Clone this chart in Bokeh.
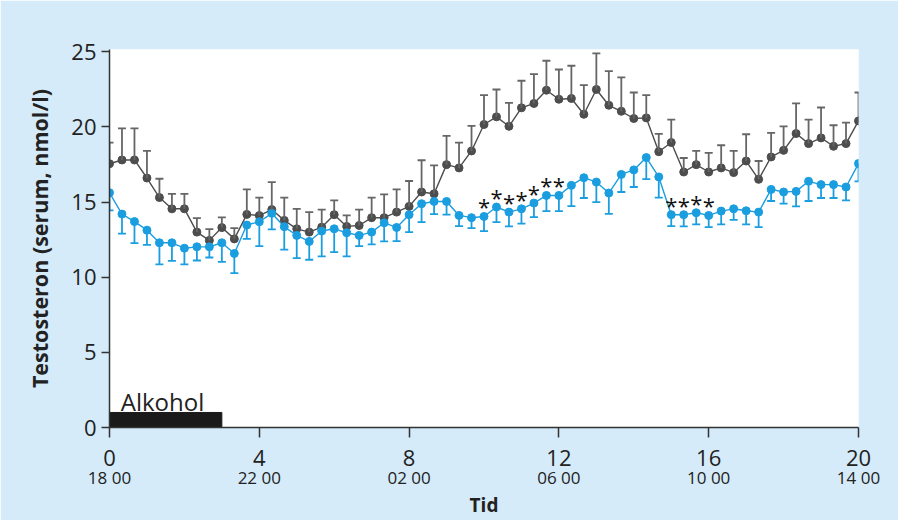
from bokeh.plotting import figure
from bokeh.models import Range1d, LinearAxis, FixedTicker, Whisker, ColumnDataSource, TeeHead
from bokeh.core.properties import value
from bokeh.embed import file_html
from bokeh.resources import INLINE

# --- data -------------------------------------------------------------
# sampling every 20 minutes, hours after 18:00
time_h = [m / 60 for m in range(0, 1201, 20)]

control = [17.55, 17.8, 17.8, 16.6, 15.3, 14.55, 14.55, 13.0, 12.45, 13.3,
           12.55, 14.18, 14.1, 14.5, 13.78, 13.22, 13.0, 13.33, 14.16, 13.38,
           13.44, 13.96, 13.96, 14.33, 14.71, 15.67, 15.55, 17.49, 17.27, 18.4,
           20.16, 20.67, 20.04, 21.27, 21.56, 22.44, 21.84, 21.89, 20.84, 22.49,
           21.44, 21.04, 20.56, 20.6, 18.35, 18.96, 17.0, 17.49, 17.0, 17.27,
           16.96, 17.73, 16.51, 18.0, 18.44, 19.56, 18.89, 19.27, 18.71, 18.89,
           20.4]
control_upper = [18.95, 19.9, 19.9, 18.4, 16.55, 15.55, 15.55, 13.93, 13.2, 13.98,
                 13.27, 15.84, 15.3, 16.33, 15.3, 14.55, 14.33, 14.49, 15.11, 14.11,
                 14.49, 15.29, 15.51, 15.84, 16.4, 17.78, 17.44, 19.4, 18.96, 20.07,
                 22.11, 22.49, 21.6, 23.07, 23.51, 24.4, 23.82, 24.07, 22.78, 24.89,
                 23.71, 23.29, 22.29, 22.11, 19.53, 20.49, 17.93, 18.4, 18.27, 18.78,
                 18.4, 19.51, 17.73, 19.6, 20.04, 21.56, 20.49, 21.29, 20.11, 20.29,
                 22.29]
alcohol = [15.62, 14.2, 13.7, 13.13, 12.29, 12.29, 11.93, 12.02, 12.02, 12.29,
           11.58, 13.47, 13.69, 14.25, 13.36, 12.78, 12.38, 13.07, 13.22, 12.96,
           12.78, 13.0, 13.62, 13.31, 14.16, 14.89, 15.04, 15.04, 14.11, 13.96,
           14.04, 14.67, 14.33, 14.55, 14.93, 15.44, 15.44, 16.11, 16.62, 16.33,
           15.6, 16.84, 17.14, 17.96, 16.67, 14.16, 14.16, 14.29, 14.11, 14.4,
           14.55, 14.42, 14.33, 15.84, 15.67, 15.71, 16.38, 16.16, 16.16, 16.0,
           17.56]
alcohol_lower = [14.45, 12.9, 12.27, 12.15, 10.85, 11.09, 10.85, 11.11, 11.31, 11.02,
                 10.27, 12.55, 12.07, 13.18, 11.84, 11.27, 11.16, 11.38, 11.67, 11.38,
                 12.07, 12.18, 12.38, 12.4, 13.0, 13.67, 14.2, 14.16, 13.4, 13.27,
                 13.07, 13.67, 13.38, 13.56, 14.0, 14.4, 14.4, 14.73, 15.27, 15.0,
                 14.22, 15.67, 16.0, 16.53, 15.3, 13.4, 13.38, 13.51, 13.33, 13.51,
                 13.82, 13.51, 13.33, 15.07, 14.89, 14.71, 15.07, 15.27, 15.27, 15.11,
                 16.38]
# indices of significant differences (*)
signif_idx = [30, 31, 32, 33, 34, 35, 36, 45, 46, 47, 48]

alc_start, alc_end, alc_height = 0, 3, 1.0
alc_label = "Alkohol"

x_ticks = [0, 4, 8, 12, 16, 20]
clock_labels = ["18 00", "22 00", "02 00", "06 00", "10 00", "14 00"]
x_title = "Tid"
y_title = "Testosteron (serum, nmol/l)"

# --- styling ----------------------------------------------------------
BG = "#d5ebf9"
GRAY = "#4d4d4d"
GRAY_ERR = "#666666"
BLUE = "#1a9ee0"
FONT = "Open Sans"

p = figure(width=898, height=520, output_backend="svg", toolbar_location=None,
           x_range=Range1d(0, 20), y_range=Range1d(0, 25.15),
           min_border_left=109, min_border_right=40, min_border_top=49,
           min_border_bottom=93)
p.background_fill_color = "white"
p.border_fill_color = BG
p.outline_line_color = None
p.grid.visible = False

src = ColumnDataSource(dict(x=time_h, c=control, cu=control_upper,
                            a=alcohol, al=alcohol_lower))

# alcohol bar
p.quad(left=[alc_start], right=[alc_end], bottom=[0], top=[alc_height],
       color="#1a1a1a")
p.text(x=[alc_start + 0.3], y=[alc_height + 0.27], text=[alc_label],
       text_font=value(FONT), text_font_size="24px", text_color="#222222",
       text_baseline="alphabetic", y_offset=-7)

# error bars
p.add_layout(Whisker(source=src, base="x", lower="c", upper="cu", dimension="height",
                     line_color=GRAY_ERR, line_width=1.8, lower_head=None,
                     upper_head=TeeHead(size=8, line_color=GRAY_ERR, line_width=1.8),
                     level="glyph"))
p.add_layout(Whisker(source=src, base="x", lower="al", upper="a", dimension="height",
                     line_color=BLUE, line_width=1.8, upper_head=None,
                     lower_head=TeeHead(size=8, line_color=BLUE, line_width=1.8),
                     level="glyph"))

p.line("x", "c", source=src, line_color=GRAY, line_width=1.4)
p.scatter("x", "c", source=src, size=8, color=GRAY)
p.line("x", "a", source=src, line_color=BLUE, line_width=1.4)
p.scatter("x", "a", source=src, size=8, color=BLUE)

p.text(x=[time_h[i] for i in signif_idx], y=[alcohol[i] for i in signif_idx],
       text=["*"] * len(signif_idx), text_font=value(FONT), text_font_size="22px",
       text_color="#111111", text_align="center", text_baseline="alphabetic",
       y_offset=-10)

# axes
for ax in (p.xaxis[0], p.yaxis[0]):
    ax.axis_line_color = "#333333"
    ax.axis_line_width = 1.5
    ax.major_tick_line_color = "#333333"
    ax.major_tick_line_width = 1.5
    ax.major_tick_in = 0
    ax.minor_tick_line_color = None
    ax.major_label_text_font = FONT
    ax.major_label_text_font_size = "22px"
    ax.major_label_text_color = "#222222"

p.xaxis[0].ticker = FixedTicker(ticks=x_ticks)
p.xaxis[0].major_tick_out = 10
p.xaxis[0].major_label_standoff = 12

p.yaxis[0].ticker = FixedTicker(ticks=[0, 5, 10, 15, 20, 25])
p.yaxis[0].major_tick_out = 8
p.yaxis[0].major_label_standoff = 5
p.yaxis[0].axis_label = y_title
p.yaxis[0].axis_label_text_font = FONT
p.yaxis[0].axis_label_text_font_style = "bold"
p.yaxis[0].axis_label_text_font_size = "21.5px"
p.yaxis[0].axis_label_text_color = "#222222"
p.yaxis[0].axis_label_standoff = 14

clock = LinearAxis(ticker=FixedTicker(ticks=x_ticks),
                   major_label_overrides={t: l for t, l in zip(x_ticks, clock_labels)})
clock.axis_line_color = None
clock.major_tick_line_color = None
clock.minor_tick_line_color = None
clock.major_tick_out = 0
clock.major_tick_in = 0
clock.major_label_standoff = -3
clock.major_label_text_font = FONT
clock.major_label_text_font_size = "17px"
clock.major_label_text_color = "#222222"
clock.axis_label = x_title
clock.axis_label_text_font = FONT
clock.axis_label_text_font_style = "bold"
clock.axis_label_text_font_size = "19px"
clock.axis_label_text_color = "#222222"
clock.axis_label_standoff = 0
p.add_layout(clock, "below")

open("out.html", "w").write(file_html(p, INLINE))
